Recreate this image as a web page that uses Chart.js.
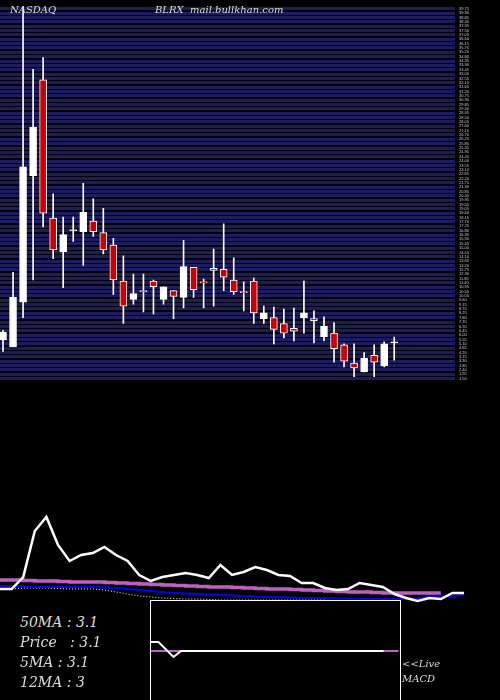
<!DOCTYPE html>
<html><head><meta charset="utf-8">
<script src="https://cdn.jsdelivr.net/npm/chart.js@4/dist/chart.umd.min.js"></script>
<style>
body{margin:0;background:#000;width:500px;height:700px;overflow:hidden;position:relative;font-family:"DejaVu Serif","Liberation Serif",serif;}
.c{position:absolute;}
.t{position:absolute;color:#ddd;font-style:italic;white-space:nowrap;}
</style></head><body>
<div class="c" style="left:0;top:0;width:500px;height:385px"><canvas id="top"></canvas></div>
<div class="c" style="left:0;top:500px;width:500px;height:110px"><canvas id="ind"></canvas></div>
<div class="c" style="left:150px;top:600px;width:249px;height:99px;border:1px solid #fff"><canvas id="macd"></canvas></div>
<div class="t" style="left:10px;top:4px;font-size:10px">NASDAQ</div>
<div class="t" style="left:155px;top:4px;font-size:10px">BLRX&nbsp; mail.bullkhan.com</div>
<div class="t" style="left:20px;top:614px;font-size:14px">50MA : 3.1</div>
<div class="t" style="left:20px;top:634px;font-size:14px">Price &nbsp; : 3.1</div>
<div class="t" style="left:20px;top:654px;font-size:14px">5MA : 3.1</div>
<div class="t" style="left:20px;top:674px;font-size:14px">12MA : 3</div>
<div class="t" style="left:402px;top:658px;font-size:10px">&lt;&lt;Live</div>
<div class="t" style="left:402px;top:673px;font-size:10px">MACD</div>
<script>
const opens  = [5.5,4.8,9.4,22.5,32.4,18.1,14.6,16.8,16.7,17.8,16.6,15.3,11.6,9.7,10.6,11.6,9.7,10.6,9.9,13.0,11.5,12.9,12.8,11.7,10.5,11.6,7.7,7.8,7.2,6.7,7.8,7.7,5.8,6.2,5.0,3.1,2.2,3.9,2.8,5.2];
const closes = [6.3,9.9,23.4,27.5,18.6,14.8,16.4,16.9,18.7,16.7,14.8,11.7,9.0,10.3,10.5,11.0,11.0,10.0,13.1,10.7,11.4,12.7,12.0,10.5,10.4,8.3,8.3,6.6,6.2,6.4,8.3,7.5,6.9,4.6,3.3,2.6,3.6,3.2,5.1,5.3];
const highs  = [6.5,12.5,40,33.5,34.7,20.6,18.2,18.2,21.7,20.1,19.1,16.0,14.2,12.3,12.3,11.7,11.0,10.6,15.8,13.0,11.8,14.9,17.5,14.0,11.5,11.9,9.0,8.9,8.7,8.8,11.6,8.5,7.9,7.3,5.1,5.1,4.2,5.0,5.3,5.8];
const lows   = [4.3,4.8,7.8,11.7,17.2,13.9,10.9,15.7,13.2,16.2,14.4,10.2,7.2,9.2,8.4,8.2,9.2,7.7,8.8,9.9,8.8,9.0,10.6,10.2,8.5,7.2,7.2,5.1,5.7,5.4,6.2,5.2,5.4,3.2,2.7,1.7,2.2,1.7,2.7,3.4];
// lower indicator panel (screen-y units, reversed scale)
const priceLine = [589,589,577,531,517,545,561,555,553,547,555,561,575,581,577,575,573,575,578,565,575,572,567,570,575,576,583,583,588,590,589,583,585,587,594,598,601,598,599,593,593];
const ma50 = [580,580,580.5,581,581,581.5,582,582,582,582.5,583,583.5,584,584.5,585,585.5,586,586.5,587,587,587.5,588,588.5,589,589,589.5,590,590.5,591,591.5,592,592,592.5,593,593,593,593,593,593];
const ma12 = [586,586,586.5,587,587,587,587,587,587,587.5,588,589,590,591,592,593,593.5,594,594.5,595,595.5,596,596.5,597,597,597.5,598,598,598,598.5,598.5,599,599,599,599,599,598,597,596,596,595];
const ma5  = [589,589,588,588,588,588.5,589,589,589,590,592,594,596,597,598,598.5,599,599,599.5,600,600,600,600,600,600,600,600,600,600];
const macdLine = [[0,641],[1,641],[3,656],[4,650],[31,650]];
const signalLine = [[0,650],[33,650]];

const up = opens.map((o,i)=>closes[i]>=o);
new Chart(document.getElementById('top'),{
  type:'bar',
  data:{datasets:[
    {data:lows.map((l,i)=>({x:i,y:[l,highs[i]]})),backgroundColor:'#fff',barThickness:1,grouped:false,order:2},
    {data:opens.map((o,i)=>({x:i,y:[o,closes[i]]})),backgroundColor:up.map(u=>u?'#fff':'#cc0000'),borderColor:'#fff',borderWidth:1,borderSkipped:false,barThickness:7,grouped:false,order:1}
  ]},
  options:{responsive:true,maintainAspectRatio:false,animation:false,layout:{padding:0},
    plugins:{legend:{display:false},tooltip:{enabled:false}},
    scales:{
      x:{type:'linear',min:-0.3,max:45.06,offset:false,display:false},
      y:{position:'right',min:1.5,max:40,border:{display:false},
        afterBuildTicks:a=>{const t=[];for(let v=1.5;v<=40;v+=0.45)t.push({value:v});a.ticks=t;},
        afterFit:a=>{a.width=45;},
        grid:{color:'#1c1c5e',lineWidth:3,drawTicks:false},
        ticks:{color:'#ccc',font:{size:4},autoSkip:false,padding:4,callback:v=>v.toFixed(2)}}
    }},
  plugins:[{id:'bg',beforeDraw:c=>{const g=c.ctx;g.save();g.fillStyle='#000';g.fillRect(0,0,c.width,c.height);g.restore();}}]
});

const pts=a=>a.map((v,i)=>({x:i,y:v}));
new Chart(document.getElementById('ind'),{
  type:'line',
  data:{datasets:[
    {data:pts(priceLine),borderColor:'#fff',borderWidth:2.5,pointRadius:0,tension:0,order:1},
    {data:pts(ma50),borderColor:'#c060c0',borderWidth:3.5,pointRadius:0,stepped:true,order:3},
    {data:pts(ma12),borderColor:'#0000ff',borderWidth:2,pointRadius:0,order:2},
    {data:pts(ma5),borderColor:'#fff',borderWidth:1,borderDash:[1,2],pointRadius:0,order:2}
  ]},
  options:{responsive:true,maintainAspectRatio:false,animation:false,layout:{padding:0},
    plugins:{legend:{display:false},tooltip:{enabled:false}},
    scales:{x:{type:'linear',min:0,max:43.1,display:false},y:{reverse:true,min:500,max:610,display:false}}}
});

new Chart(document.getElementById('macd'),{
  type:'line',
  data:{datasets:[
    {data:macdLine.map(p=>({x:p[0],y:p[1]})),borderColor:'#fff',borderWidth:2,pointRadius:0,order:1},
    {data:signalLine.map(p=>({x:p[0],y:p[1]})),borderColor:'#c060c0',borderWidth:2,pointRadius:0,order:2}
  ]},
  options:{responsive:true,maintainAspectRatio:false,animation:false,layout:{padding:0},
    plugins:{legend:{display:false},tooltip:{enabled:false}},
    scales:{x:{type:'linear',min:0,max:33.2,display:false},y:{reverse:true,min:600,max:699,display:false}}}
});
</script></body></html>
